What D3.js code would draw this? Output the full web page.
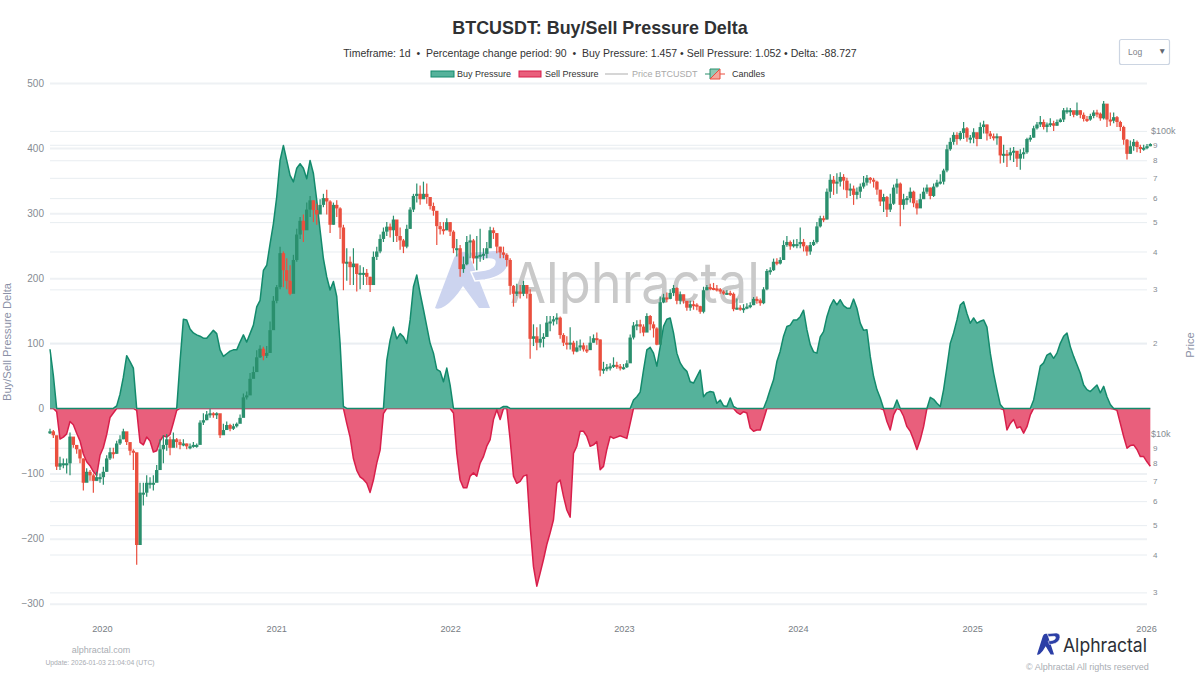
<!DOCTYPE html>
<html>
<head>
<meta charset="utf-8">
<script src="https://cdn.jsdelivr.net/npm/d3@7"></script>
<style>
  html, body { margin: 0; padding: 0; background: #fff; }
  svg { display: block; font-family: "Liberation Sans", Arial, sans-serif; }
  text { white-space: pre; }
</style>
</head>
<body>
<svg id="chart"></svg>
<script>
// weekly readings, one value per week from firstDay
let firstDay = new Date(2019, 8, 14)
let lastDay = new Date(2026, 0, 3)

let pressureDelta = [
  91,51,-5,-47,-44,-39,-20,-25,-38,-50,
  -70,-82,-88,-97,-103,-72,-60,-40,-14,-7,
  4,22,48,81,72,62,-3,-52,-56,-44,
  -50,-67,-65,-50,-42,-44,-40,-22,-3,72,
  137,136,122,116,113,111,108,108,114,120,
  115,90,80,84,88,90,90,102,113,102,
  115,128,156,166,212,220,253,284,325,381,
  404,381,358,348,369,376,369,353,381,361,
  320,274,230,202,182,195,172,100,3,-23,
  -44,-77,-95,-105,-109,-115,-129,-110,-84,-64,
  -8,74,105,125,107,115,110,100,136,187,
  205,177,152,126,100,85,60,57,41,62,
  36,-7,-69,-110,-122,-122,-104,-99,-104,-84,
  -74,-58,-48,-17,-2,-17,3,3,-48,-104,
  -115,-112,-104,-102,-181,-243,-273,-253,-232,-209,
  -191,-171,-115,-110,-135,-156,-167,-69,-58,-35,
  -35,-43,-58,-56,-51,-94,-89,-63,-43,-46,
  -44,-42,-44,-46,-23,13,18,25,59,90,
  94,85,65,95,126,137,139,116,85,70,
  62,57,41,39,49,59,18,24,26,25,
  8,13,4,3,16,3,-6,-9,-5,-7,
  -30,-35,-33,-33,-17,13,29,44,72,88,
  111,126,128,136,136,141,151,121,98,87,
  85,110,118,141,157,167,159,167,158,154,
  154,168,154,131,120,121,80,49,29,16,
  -2,-20,-33,-10,13,-2,-12,-28,-35,-48,
  -63,-48,-28,0,17,14,8,3,29,64,
  100,116,136,159,164,146,131,139,131,134,
  136,125,85,54,29,6,-2,-33,-23,-17,
  -30,-28,-38,-28,-10,13,39,65,70,82,
  85,77,85,100,111,116,95,80,67,54,
  36,29,26,31,36,24,34,18,6,-1,
  -3,-23,-43,-61,-57,-56,-63,-74,-74,-82,-88.7
]

// prices in thousands of dollars
let priceClose = [
  10.2,9.9,7.8,8.0,8.0,8.0,9.8,9.2,8.9,8.3,
  6.9,7.5,7.3,7.0,7.2,7.2,7.5,8.3,8.7,8.6,
  9.3,9.6,10.2,9.4,8.8,8.7,4.3,6.4,6.4,6.9,
  6.9,6.9,7.6,8.9,9.2,9.6,9.0,9.6,9.4,9.2,
  9.3,9.1,9.1,9.2,9.2,10.9,11.1,11.6,11.7,11.6,
  11.7,9.9,10.3,10.7,10.4,10.6,10.8,11.3,13.2,13.4,
  15.2,16.0,17.9,19.1,18.1,18.5,22.0,27.5,30.5,39.5,
  34.7,32,29,37.5,45.5,50.5,47,55,59,54.8,
  53,57,60,58.5,49,57,55.5,48,36.5,37,
  35.5,36.5,33.7,34,34,33,31,38.4,40,44,
  46.5,48.3,47,51,45,43.5,41.5,47.5,55,61,
  62,59.5,62,60.5,56.5,54.5,48.5,47.4,47,50,
  46.5,41,41,35,36.3,43,43.5,38,38.7,39,
  39.3,41,47,46,41.5,39.7,39,37.5,30.8,29,
  29.5,29,31,29,20.6,21,20,20.6,20.9,23.3,
  23.5,23.9,24.2,21.2,20,19.8,20,18.7,19.3,19.6,
  19,18.9,20,20.7,20.5,16.2,16.4,16.6,16.7,16.9,
  16.7,16.5,16.6,17.1,20.8,22.8,23,22.6,21.6,24.5,
  23,22.3,19.7,27.2,28.2,27.9,29.2,30.3,27.5,28.9,
  27.5,26.1,26.8,26.7,26.4,25.3,29.8,30.5,30.3,30.2,
  30,29.5,29.2,29.2,29,25.8,26.1,25.9,26,26.3,
  26.6,27.9,27.6,27,30,34.5,34.7,37,36.5,37.5,
  42,43,41.6,42.3,42.3,43,41.6,40,42,43,
  48.4,51.5,51,63,69,67,68,70.5,68.5,63.7,
  64.5,61.5,63,65.5,67.5,70,69,68,64,58.5,
  60.5,55,57.5,65,67,57,59.5,60,63,57.7,
  55.5,59.5,63,65,61,65.5,67.5,68,74,87,
  92,97,94,98.5,102,95,95,99,94,103,
  105,98,96,95.5,96,83,84,83,85,86,
  81,84,85,94,95,102,105,107,103,105,
  106,104,107,109,117,117,117,113,117,113,
  109.5,109,112,115,114,110,123,109,108,111,
  107,103,93.5,84,89,92,88.5,87.5,88,89,90.5
]

let priceHigh = [
  10.4,10.3,8.9,8.4,8.3,8.3,10.1,9.7,9.2,8.8,
  8.3,7.7,7.6,7.4,7.5,7.4,7.8,8.5,9.0,9.0,
  9.5,9.9,10.4,9.9,9.3,8.9,7.8,6.9,6.9,7.3,
  7.2,7.3,7.9,9.6,9.9,10.0,9.8,10.1,9.7,9.6,
  9.6,9.3,9.3,9.4,9.3,11.1,11.7,11.9,12.1,11.8,
  11.8,11.2,10.8,11.0,10.8,10.8,10.9,11.6,13.6,13.8,
  15.9,16.7,18.9,19.6,19.4,19.5,23.5,28.5,31,41.5,
  40,38,36,39,47.5,52,53,58,61,59,
  57.5,59.5,62,64,59,58,59,56,49,41,
  38.5,41,36,36,35.5,35,33,40,41.5,45.5,
  48,50,49.5,52.5,49,48,44,49,56,62,
  67,66,68,67,59.5,58,54,50,50,51.5,
  50,47,44,42,38.5,45,45.5,44,45,47.5,
  41,43,48.3,48,46,41.5,41.5,39.5,38,31,
  31.3,31,32,31,30,23,22.5,23,21.5,24.5,
  24.5,24.5,25,24.4,21.5,21,22.5,20.3,20.3,20.5,
  20,19.6,21,21.3,21.6,20.5,17.3,17,17.1,17.9,
  17.3,17,17,17.5,21.3,23.4,23.7,23.8,23,25,
  24.7,23.5,22.5,28.4,29,29.3,30,31,30.5,29.5,
  28.8,27.4,27.5,27.5,27,26.5,30.6,31,31.3,31.5,
  31,30.3,29.8,29.8,29.7,29.3,28,26.6,26.8,27,
  27.2,28.3,28.4,28,30.5,35,35.5,37.9,38,38.3,
  43.5,45,43.5,43.8,44,48,44,42,43,43.7,
  50,52.5,52.5,64.5,72,71,72.5,73,72,70,
  67,66,65,67,71,71.5,70.5,70,68.5,63,
  62,61,62,66.5,69.5,67.5,62,61,65,63.5,
  59,62,65,66.5,65,67,69,72,75,90,
  95,99,99,100,107,103,97,102,98,106.5,
  108,105,100,98,98,96,90,86.5,88,88.5,
  85.5,87,88,95,97,104,107,112,109,106.5,
  110,108,109,110,119,119.5,119,116,124,117,
  115,112,114,117,117.5,115,125.5,122,115,115,
  112,108,104,94,93,94,93,90,90,90.5,91
]

let priceLow = [
  10.0,9.7,7.6,7.6,7.7,7.4,7.3,9.0,8.6,8.0,
  6.5,7.1,7.0,6.4,7.0,6.9,6.8,7.5,8.2,8.3,
  8.6,9.2,9.6,9.2,8.5,7.6,3.7,5.4,5.8,6.2,
  6.6,6.5,7.1,8.4,8.0,8.8,8.5,9.3,9.0,8.9,
  9.1,8.9,8.9,9.0,9.0,9.5,10.7,11.1,11.3,11.3,
  11.2,9.7,10.0,10.3,10.2,10.3,10.5,11.1,12.9,13.0,
  14.5,15.3,17.0,17.8,17.5,17.8,19.0,23.0,27,30,
  30.5,30,28.7,30,37,44,43,48,52,50,
  49,54,56,53,46,49,52,44,29.8,32,
  31,31,29.5,30,31,31,29.4,31.5,37.5,39.5,
  43,45,44.5,43,43,40.5,39.5,41,47.5,54,
  58,57,60,57.5,55,52.5,42,45.5,45.5,47,
  45,39.5,38.5,33,34,36,38,36.5,34.7,37,
  37.5,38,44,44,39.5,38,38,35.7,28.8,26.3,
  28.5,28,28.5,28,17.7,19.5,18.9,19.3,19.3,21,
  21.8,22.8,23,20.6,19.5,19,19,18.3,18.6,18.8,
  18.7,18.5,19,20,19.7,15.5,15.8,16.1,16.2,16.5,
  16.4,16.2,16.3,16.5,17.3,20.5,22,21.5,21,22,
  22,20.8,19.6,19.8,27,27.2,27.8,28.5,26.8,26.8,
  26.9,25.5,25.5,25.7,25.6,24.9,25,29.8,29.8,29.8,
  29.5,29,28.8,28.9,28.5,25.4,25.7,25.5,25.1,25.8,
  26,26.6,26.9,26.5,26.8,29.8,33.5,34.5,36,36.2,
  37.5,41.5,40.5,41.2,41,41,40,38.7,39,41.7,
  42.5,48,50,51,60,61.5,62,65.5,64,60,
  61,57,59.5,60,64.5,66,67,65,61.5,56.5,
  54,52,54,57,62,48.5,55,57,58,56,
  53,57,60,62,59.5,60.5,65,66.5,66.5,73,
  86,90,90,93,94,92,91,91,89,95,
  98,93,94,93,90,78,78.5,76,80,79,
  76,74.5,81,84,92,95,101,103,101,99,
  103,100,104,106.5,107,114,112,111,112,110,
  107.5,107,108,110,111,108,109,103,104,106,
  103,100,90,80.5,84,86,85,84.5,86,87,89
]

let deltaTicks = [-300,-200,-100,0,100,200,300,400,500]
let priceTicks = [3,4,5,6,7,8,9,10,20,30,40,50,60,70,80,90,100]
let priceTickLabels = ["3","4","5","6","7","8","9","$10k","2","3","4","5","6","7","8","9","$100k"]
let yearTicks = [2020,2021,2022,2023,2024,2025,2026]

let title = "BTCUSDT: Buy/Sell Pressure Delta"
let subtitle = "Timeframe: 1d  •  Percentage change period: 90  •  Buy Pressure: 1.457 • Sell Pressure: 1.052 • Delta: -88.727"

let width = 1200
let height = 675
let left = 50
let right = 1147
let top_ = 83
let bottom = 620

let green = "#138a6c"
let greenFill = "#55b29b"
let red = "#d81f4b"
let redFill = "#e95f7c"
let candleGreen = "#2a8f6d"
let candleRed = "#ea4f3e"
let gridColor = "#eef1f4"

let svg = d3.select("#chart").attr("width",width).attr("height",height)

let weeks = pressureDelta.map((d,i)=>d3.timeDay.offset(firstDay,i*7))
let buyPressure = pressureDelta.map((d)=>Math.max(d,0))
let sellPressure = pressureDelta.map((d)=>Math.min(d,0))

let xScale = d3.scaleTime().domain([firstDay,lastDay]).range([left,right])
let yScale = d3.scaleLinear().domain([-325,500]).range([bottom,top_])
let priceScale = d3.scaleLog().domain([2.432,143.9]).range([bottom,top_])

// AP logo shape, used for the watermark and the corner mark
let logoA = "M0 58 L19 8 Q22 2 28 2 L33 2 L55 58 L44 58 L28 36 Q19 50 10 56 Q4 60 0 58 Z"
let logoP = "M34 2 L62 0 Q75 1 74 12 Q72 26 50 30 L40 31 L36 22 L50 20 Q60 18 60 12 Q60 9 54 9 L37 10 Z"

let drawLogo = (x,y,kx,ky,color) => {
  let g = svg.append("g").attr("transform",`translate(${x},${y}) scale(${kx},${ky})`).attr("fill",color)
  g.append("path").attr("d",logoA)
  g.append("path").attr("d",logoP).attr("stroke","#fff").attr("stroke-width",1.5)
}

let makeGrid = () => {
  let deltaGrid = d3.axisLeft(yScale).tickValues(deltaTicks).tickSize(left-right).tickFormat("")
  let g1 = svg.append("g").attr("transform",`translate(${left},0)`).call(deltaGrid)
  g1.select(".domain").remove()
  g1.selectAll("line").attr("stroke",gridColor).attr("stroke-width",2)

  let priceGrid = d3.axisLeft(priceScale).tickValues(priceTicks).tickSize(left-right).tickFormat("")
  let g2 = svg.append("g").attr("transform",`translate(${left},0)`).call(priceGrid)
  g2.select(".domain").remove()
  g2.selectAll("line").attr("stroke","#e8edf1").attr("stroke-width",1)
}

let makeWatermark = () => {
  drawLogo(435,250,1,1,"#ccd4ef")
  svg.append("text").attr("x",510).attr("y",303)
     .style("font-family","Inter, 'Noto Sans', sans-serif").style("font-size","56px")
     .attr("textLength",250).attr("lengthAdjust","spacingAndGlyphs")
     .attr("fill","#c9c9c9").text("Alphractal")
}

let makeAreas = () => {
  let area = (values,fill,stroke) => {
    let a = d3.area().x((d,i)=>xScale(weeks[i])).y0(yScale(0)).y1((d)=>yScale(d))
    let l = d3.line().x((d,i)=>xScale(weeks[i])).y((d)=>yScale(d))
    svg.append("path").datum(values).attr("d",a).attr("fill",fill)
    svg.append("path").datum(values).attr("d",l).attr("fill","none")
       .attr("stroke",stroke).attr("stroke-width",1.5).attr("stroke-linejoin","round")
  }
  area(sellPressure,redFill,red)
  area(buyPressure,greenFill,green)
}

let makeCandles = () => {
  let candles = priceClose.map((c,i)=>({
    date: weeks[i],
    open: i ? priceClose[i-1] : c,
    close: c,
    high: priceHigh[i],
    low: priceLow[i]
  }))
  let isUp = (d) => d.close >= d.open
  let color = (d) => isUp(d) ? candleGreen : candleRed
  // red candles go on top, they hide the green ones in the original too
  candles.sort((a,b)=>d3.descending(isUp(a),isUp(b)))
  let g = svg.append("g")
  g.selectAll("line").data(candles).enter().append("line")
   .attr("x1",(d)=>xScale(d.date)).attr("x2",(d)=>xScale(d.date))
   .attr("y1",(d)=>priceScale(d.high)).attr("y2",(d)=>priceScale(d.low))
   .attr("stroke",color).attr("stroke-width",1.2)
  g.selectAll("rect").data(candles).enter().append("rect")
   .attr("x",(d)=>xScale(d.date)-1.7).attr("width",3.4)
   .attr("y",(d)=>Math.min(priceScale(d.open),priceScale(d.close)))
   .attr("height",(d)=>Math.max(2,Math.abs(priceScale(d.open)-priceScale(d.close))))
   .attr("fill",color)
}

let makeAxes = () => {
  let leftAxis = d3.axisLeft(yScale).tickValues(deltaTicks).tickSize(0).tickPadding(6)
  let g1 = svg.append("g").attr("transform",`translate(${left},0)`).call(leftAxis)
  g1.select(".domain").remove()
  g1.selectAll("text").style("font-size","10px").attr("fill","#858b92")

  let rightAxis = d3.axisRight(priceScale).tickValues(priceTicks).tickSize(0)
                    .tickFormat((d,i)=>priceTickLabels[i])
  let g2 = svg.append("g").attr("transform",`translate(${right},0)`).call(rightAxis)
  g2.select(".domain").remove()
  g2.selectAll("text")
    .attr("x",(d,i)=>priceTickLabels[i][0]=="$" ? 4 : 6)
    .style("font-size",(d,i)=>priceTickLabels[i][0]=="$" ? "9px" : "8px")
    .attr("fill","#858b92")

  let xAxis = d3.axisBottom(xScale).tickValues(yearTicks.map((y)=>new Date(y,0,1)))
                .tickSize(0).tickPadding(3).tickFormat(d3.timeFormat("%Y"))
  let g3 = svg.append("g").attr("transform",`translate(0,${bottom+2})`).call(xAxis)
  g3.select(".domain").remove()
  g3.selectAll("text").style("font-size","9.2px").attr("fill","#777d84")

  svg.append("text").attr("transform","translate(11,342) rotate(-90)").attr("text-anchor","middle")
     .style("font-size","11.2px").attr("fill","#8a90a6").text("Buy/Sell Pressure Delta")
  svg.append("text").attr("transform","translate(1194,345) rotate(-90)").attr("text-anchor","middle")
     .style("font-size","11.2px").attr("fill","#8a90a6").text("Price")
}

let makeHeader = () => {
  svg.append("text").attr("x",600).attr("y",34).attr("text-anchor","middle")
     .style("font-size","17.9px").style("font-weight","bold").attr("fill","#2f3133").text(title)
  svg.append("text").attr("x",600).attr("y",57).attr("text-anchor","middle")
     .style("font-size","10.5px").attr("fill","#333").text(subtitle)
}

let makeLegend = () => {
  let y = 74
  let label = (x,text,color) => svg.append("text").attr("x",x).attr("y",y+3.3)
     .style("font-size","9px").attr("fill",color).text(text)

  svg.append("rect").attr("x",431).attr("y",y-3).attr("width",23).attr("height",6)
     .attr("fill",greenFill).attr("stroke",green).attr("stroke-width",1)
  label(457,"Buy Pressure","#333")
  svg.append("rect").attr("x",519).attr("y",y-3).attr("width",22).attr("height",6)
     .attr("fill",redFill).attr("stroke",red).attr("stroke-width",1)
  label(545,"Sell Pressure","#333")
  svg.append("line").attr("x1",605).attr("x2",628).attr("y1",y).attr("y2",y)
     .attr("stroke","#c8c8c8").attr("stroke-width",1.5)
  label(632,"Price BTCUSDT","#a9a9a9")

  // candle icon: green and red halves split by the diagonal
  svg.append("line").attr("x1",705).attr("x2",710).attr("y1",y).attr("y2",y).attr("stroke",candleGreen)
  svg.append("line").attr("x1",720).attr("x2",725).attr("y1",y).attr("y2",y).attr("stroke",candleRed)
  svg.append("path").attr("d",`M710 ${y-5} H720 L710 ${y+5} Z`).attr("fill","#8ec9b4").attr("stroke",candleGreen)
  svg.append("path").attr("d",`M720 ${y-5} V${y+5} H710 Z`).attr("fill","#f4a89c").attr("stroke",candleRed)
  label(732,"Candles","#333")
}

let makeDropdown = () => {
  svg.append("rect").attr("x",1119.5).attr("y",39.5).attr("width",50).attr("height",25).attr("rx",2)
     .attr("fill","#fff").attr("stroke","#ccd5e2").attr("stroke-width",1.2)
  svg.append("text").attr("x",1128).attr("y",55).style("font-size","8.5px").attr("fill","#7d8389").text("Log")
  svg.append("text").attr("x",1158).attr("y",54).style("font-size","8.5px").attr("fill","#5f6670").text("▼")
}

let makeFooter = () => {
  svg.append("text").attr("x",101).attr("y",653).attr("text-anchor","middle")
     .style("font-size","9px").attr("fill","#a9adb3").text("alphractal.com")
  svg.append("text").attr("x",100).attr("y",664.5).attr("text-anchor","middle")
     .style("font-size","6.8px").attr("fill","#a9adb3").text("Update: 2026-01-03 21:04:04 (UTC)")
  drawLogo(1037,633,0.31,0.37,"#2c3fa6")
  svg.append("text").attr("x",1063).attr("y",652)
     .style("font-family","Inter, 'Noto Sans', sans-serif").style("font-size","19px")
     .attr("textLength",84).attr("lengthAdjust","spacingAndGlyphs")
     .attr("fill","#2b2f36").text("Alphractal")
  svg.append("text").attr("x",1026).attr("y",670)
     .style("font-size","9px").attr("fill","#a9adb3").text("© Alphractal All rights reserved")
}

makeGrid()
makeWatermark()
makeAreas()
makeCandles()
makeAxes()
makeHeader()
makeLegend()
makeDropdown()
makeFooter()
</script>
</body>
</html>
